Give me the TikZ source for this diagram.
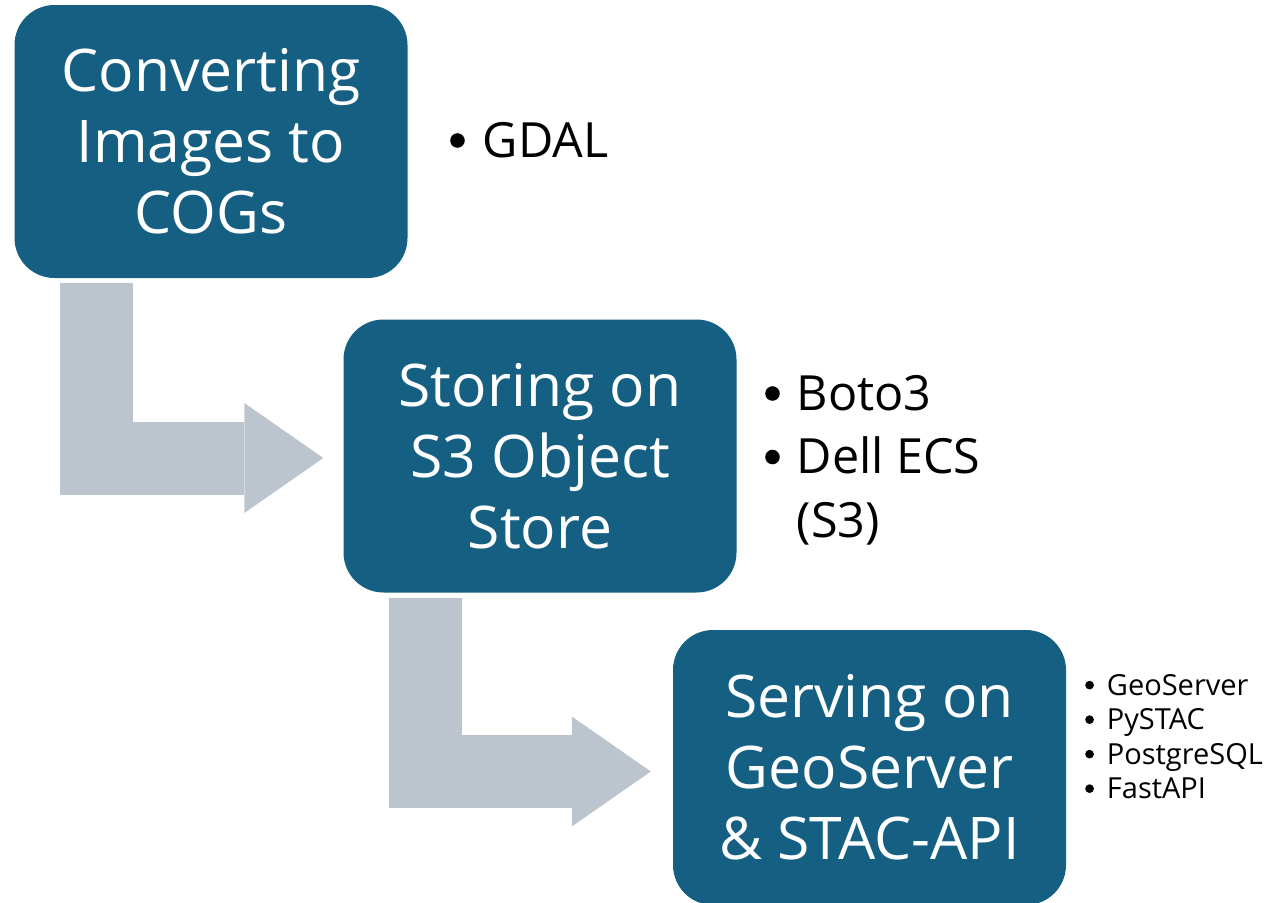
\documentclass[tikz,border=0pt]{standalone}
\usepackage{fontspec}
\setmainfont{Open Sans}
\usetikzlibrary{arrows.meta,calc}
\definecolor{boxblue}{HTML}{156082}
\definecolor{arrowgray}{HTML}{BCC4CE}
\newcommand{\bigbul}{\tikz[x=1cm,y=1cm,baseline=0pt]\fill (0.15em,0.34em) circle[radius=0.15em];}
\begin{document}
\begin{tikzpicture}[x=1pt,y=-1pt,
  stage/.style={fill=boxblue, rounded corners=40pt, minimum width=393pt, minimum height=273pt,
    text=white, align=center, font=\fontsize{58.8}{71}\selectfont, inner sep=0pt},
  bigarrow/.style={draw=arrowgray, line width=73pt, line join=miter,
    -{Triangle[width=110pt,length=79pt,line width=0pt]}},
  biglist/.style={anchor=base west, inner sep=0pt, font=\fontsize{48.5}{63.5}\selectfont},
  smalllist/.style={anchor=base west, inner sep=0pt, font=\fontsize{29}{34.5}\selectfont}]
\useasboundingbox (0,0) rectangle (1271,902);
\node[stage] (b1) at (211,141.5) {Converting\\Images to\\COGs};
\node[stage] (b2) at (540,456) {Storing on\\S3 Object\\Store};
\node[stage, minimum height=275pt] (b3) at (869.5,767.5) {Serving on\\GeoServer\\\& STAC-API};
\draw[bigarrow] ($(b1.south west)+(82.5,5)$) |- ($(b2.west)+(-20,2)$);
\draw[bigarrow] ($(b2.south west)+(82,5)$) |- ($(b3.west)+(-22,4)$);
\node[biglist] (l1) at (450,157) {\begin{tabular}[t]{@{}l@{\hspace{18pt}}l@{}}\bigbul&GDAL\end{tabular}};
\node[biglist] (l2) at (765,410) {\begin{tabular}[t]{@{}l@{\hspace{17pt}}l@{}}\bigbul&Boto3\\\bigbul&Dell ECS\\&(S3)\end{tabular}};
\node[smalllist] (l3) at (1085,695) {\begin{tabular}[t]{@{}l@{\hspace{13pt}}l@{}}\bigbul&GeoServer\\\bigbul&PySTAC\\\bigbul&PostgreSQL\\\bigbul&FastAPI\end{tabular}};
\end{tikzpicture}
\end{document}
